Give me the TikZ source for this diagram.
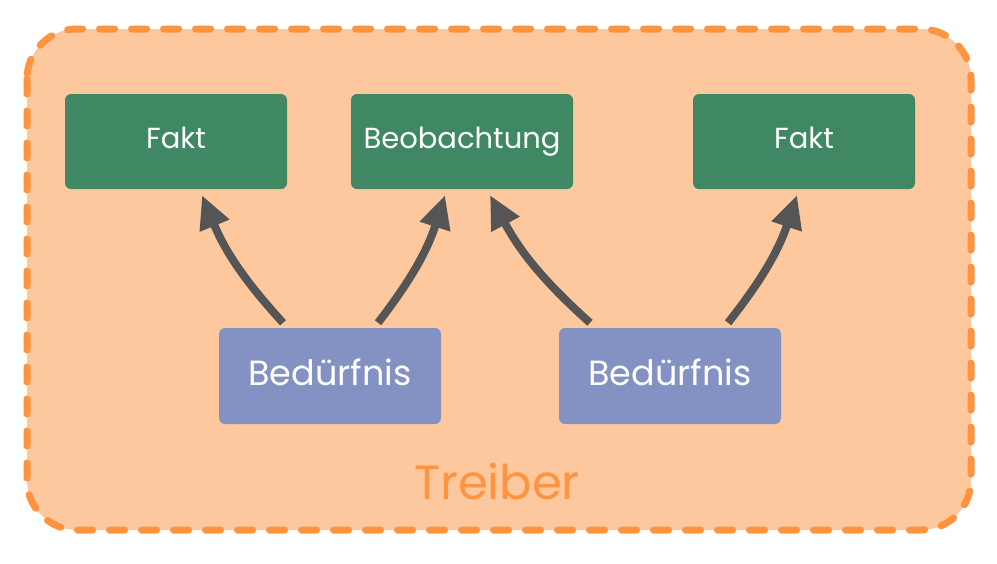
\documentclass[tikz,border=0pt]{standalone}
\usepackage{fontspec}
\setmainfont{Poppins}
\usetikzlibrary{arrows.meta}
\definecolor{faktgreen}{HTML}{3F8863}
\definecolor{needblue}{HTML}{8491C3}
\definecolor{driverfill}{HTML}{FEC89E}
\definecolor{driverline}{HTML}{FF9440}
\definecolor{arrowgray}{HTML}{555555}

\begin{document}
\begin{tikzpicture}[x=1pt,y=-1pt,
    fact/.style={fill=faktgreen,text=white,rounded corners=6pt,minimum width=222pt,minimum height=95pt,text height=23pt,text depth=10pt,font=\fontsize{29}{30}\selectfont},
    need/.style={fill=needblue,text=white,rounded corners=6pt,minimum width=222pt,minimum height=96pt,text height=28pt,text depth=10pt,font=\fontsize{35}{36}\selectfont},
    link/.style={arrowgray,line width=8pt,-{Triangle[length=33pt,width=30pt]}}]

      \useasboundingbox (0,0) rectangle (997,563);

      \draw[driverline,fill=driverfill,line width=7pt,rounded corners=50pt,dash pattern=on 15pt off 17pt,line cap=round] (27,29) rectangle (971,530);

      \node[fact] (fakta) at (176,141.5) {Fakt};
      \node[fact] (beob) at (462,141.5) {Beobachtung};
      \node[fact] (faktb) at (804,141.5) {Fakt};

      \node[need] (beda) at (330,376) {Bedürfnis};
      \node[need] (bedb) at (670,376) {Bedürfnis};

      \node[driverline,font=\fontsize{48}{50}\selectfont] (treiber) at (497,481) {Treiber};

      \draw[link] ([xshift=-47pt,yshift=5pt]beda.north) to[bend left=10] ([xshift=26pt,yshift=-6pt]fakta.south);
      \draw[link] ([xshift=48pt,yshift=5pt]beda.north) to[bend right=10] ([xshift=-17pt,yshift=-6pt]beob.south);
      \draw[link] ([xshift=-80pt,yshift=5pt]bedb.north) to[bend left=10] ([xshift=28pt,yshift=-6pt]beob.south);
      \draw[link] ([xshift=58pt,yshift=5pt]bedb.north) to[bend right=10] ([xshift=-7pt,yshift=-6pt]faktb.south);

    \end{tikzpicture}
\end{document}
